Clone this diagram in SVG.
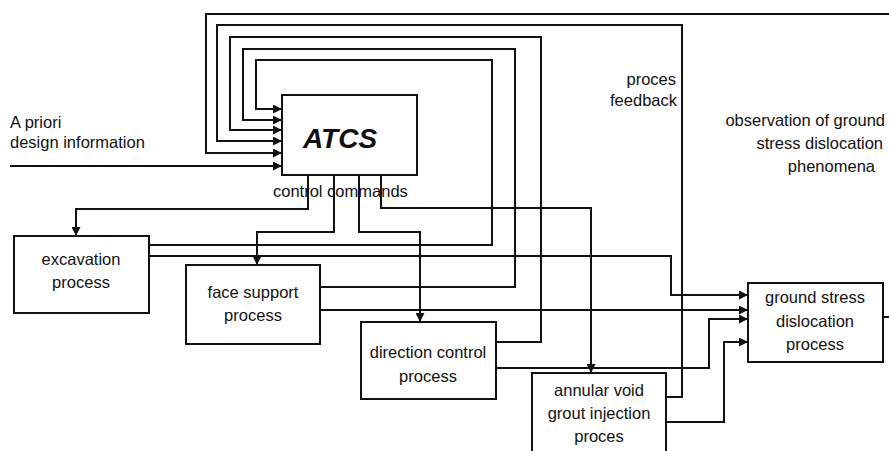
<svg xmlns="http://www.w3.org/2000/svg" width="889" height="451" viewBox="0 0 889 451">
<style>
.box{fill:#fff;stroke:#111;stroke-width:2}
.ln{fill:none;stroke:#111;stroke-width:2}
.arr{fill:none;stroke:#111;stroke-width:2;marker-end:url(#ah)}
text{font-family:"Liberation Sans",Arial,sans-serif;font-size:16.5px;fill:#111}
.c{text-anchor:middle}
.e{text-anchor:end}
.big{font-size:28px;font-weight:bold;font-style:italic}
</style>
<defs>
<marker id="ah" viewBox="0 0 10 10" refX="10" refY="5" markerWidth="10" markerHeight="9" markerUnits="userSpaceOnUse" orient="auto">
<path d="M0,0 L10,5 L0,10 z" fill="#111"/>
</marker>
</defs>
<rect width="889" height="451" fill="#fff"/>
<g id="connectors">
<!-- feedback loops into ATCS -->
<path class="arr" d="M889,14 H206 V153 H282"/>
<path class="arr" d="M666,397 H682 V25 H217 V141 H282"/>
<path class="arr" d="M496,342 H541 V37 H230 V130 H282"/>
<path class="arr" d="M320,287 H515 V49 H243 V120 H282"/>
<path class="arr" d="M149,245 H492 V60 H256 V109 H282"/>
<path class="arr" d="M10,166 H282"/>
<!-- control commands -->
<path class="arr" d="M308,175 V209 H76 V236"/>
<path class="arr" d="M334,175 V232 H257 V265"/>
<path class="arr" d="M359,175 V232 H420 V322"/>
<path class="arr" d="M381,175 V208 H591 V373"/>
<!-- into ground stress -->
<path class="arr" d="M149,256 H671 V295 H748"/>
<path class="arr" d="M320,310 H748"/>
<path class="arr" d="M496,368 H709 V319 H748"/>
<path class="arr" d="M666,422 H724 V342 H748"/>
<path class="ln" d="M883,317 H889"/>
</g>
<g id="atcs">
<rect class="box" x="282" y="95" width="135" height="80"/>
<text class="c big" x="340" y="148">ATCS</text>
</g>
<g id="excavation">
<rect class="box" x="14" y="236" width="135" height="77"/>
<text class="c" x="81" y="265">excavation</text>
<text class="c" x="81" y="288">process</text>
</g>
<g id="face-support">
<rect class="box" x="186" y="265" width="134" height="79"/>
<text class="c" x="253" y="298">face support</text>
<text class="c" x="253" y="321">process</text>
</g>
<g id="direction-control">
<rect class="box" x="361" y="322" width="135" height="77"/>
<text class="c" x="428" y="358">direction control</text>
<text class="c" x="428" y="382">process</text>
</g>
<g id="annular-void">
<rect class="box" x="532" y="373" width="134" height="90"/>
<text class="c" x="599" y="396">annular void</text>
<text class="c" x="599" y="419">grout injection</text>
<text class="c" x="599" y="442">proces</text>
</g>
<g id="ground-stress">
<rect class="box" x="748" y="283" width="135" height="79"/>
<text class="c" x="815" y="303">ground stress</text>
<text class="c" x="815" y="327">dislocation</text>
<text class="c" x="815" y="350">process</text>
</g>
<g id="labels">
<text x="10" y="128">A priori</text>
<text x="10" y="148">design information</text>
<text x="273" y="197">control commands</text>
<text class="e" x="676" y="85">proces</text>
<text class="e" x="677" y="106">feedback</text>
<text class="e" x="885" y="126">observation of ground</text>
<text class="e" x="883" y="149">stress dislocation</text>
<text class="e" x="875" y="172">phenomena</text>
</g>
</svg>
